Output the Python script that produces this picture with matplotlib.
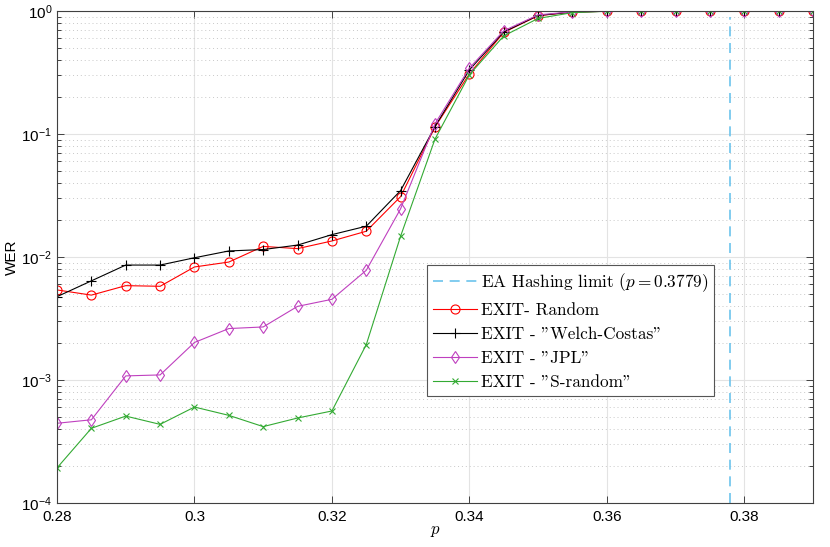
import numpy as np
import matplotlib
matplotlib.use("Agg")
import matplotlib.pyplot as plt
from matplotlib.font_manager import FontProperties
from matplotlib.ticker import LogLocator, NullFormatter, FixedLocator

plt.rcParams["font.family"] = "Liberation Sans"
plt.rcParams["mathtext.fontset"] = "custom"
plt.rcParams["mathtext.rm"] = "Liberation Sans"
plt.rcParams["mathtext.it"] = "Liberation Sans:italic"

p = [0.28, 0.285, 0.29, 0.295, 0.30, 0.305, 0.31, 0.315, 0.32, 0.325, 0.33, 0.335,
     0.34, 0.345, 0.35, 0.355, 0.36, 0.365, 0.37, 0.375, 0.38, 0.385, 0.39]
wer_random = [5.4e-3, 4.9e-3, 5.85e-3, 5.78e-3, 8.3e-3, 9.1e-3, 1.22e-2, 1.17e-2, 1.35e-2,
              1.62e-2, 3.1e-2, 0.114, 0.308, 0.67, 0.915, 0.98, 0.995, 1, 1, 1, 1, 1, 1]
wer_welch = [4.76e-3, 6.4e-3, 8.6e-3, 8.6e-3, 9.86e-3, 1.12e-2, 1.15e-2, 1.25e-2, 1.52e-2,
             1.78e-2, 3.47e-2, 0.115, 0.332, 0.675, 0.92, 0.98, 0.995, 1, 1, 1, 1, 1, 1]
wer_jpl = [4.45e-4, 4.75e-4, 1.08e-3, 1.10e-3, 2.02e-3, 2.62e-3, 2.7e-3, 3.97e-3, 4.53e-3,
           7.8e-3, 2.47e-2, 0.121, 0.343, 0.69, 0.93, 0.985, 0.995, 1, 1, 1, 1, 1, 1]
wer_srand = [1.93e-4, 4.05e-4, 5.09e-4, 4.36e-4, 6.03e-4, 5.16e-4, 4.18e-4, 4.91e-4, 5.6e-4,
             1.94e-3, 1.48e-2, 0.091, 0.303, 0.627, 0.87, 0.97, 0.995, 1, 1, 1, 1, 1, 1]
p_hash = 0.3779
xticks = [0.28, 0.30, 0.32, 0.34, 0.36, 0.38]
xticklabels = ["0.28", "0.3", "0.32", "0.34", "0.36", "0.38"]

fig = plt.figure(figsize=(8.3, 5.47), dpi=100)
ax = fig.add_axes([0.0687, 0.0804, 0.9108, 0.8995])

ax.axvline(p_hash, color="#6CC3EC", lw=1.2, ls=(0, (6, 4)), ymax=0.987,
           label=r"EA Hashing limit ($p = 0.3779$)")
ax.plot(p, wer_random, "-o", color="#FF0000", lw=0.8, ms=6.5, mfc="none", mew=0.8,
        label="EXIT- Random")
ax.plot(p, wer_welch, "-+", color="#000000", lw=0.8, ms=6.5, mew=0.8,
        label='EXIT - "Welch-Costas"')
ax.plot(p, wer_jpl, "-d", color="#BF40BF", lw=0.8, ms=6.5, mfc="none", mew=0.8,
        label='EXIT - "JPL"')
ax.plot(p, wer_srand, "-x", color="#33AA33", lw=0.8, ms=4.5, mew=0.8,
        label='EXIT - "S-random"')

ax.set_yscale("log")
ax.set_xlim(0.28, 0.39)
ax.set_ylim(1e-4, 1)
ax.xaxis.set_major_locator(FixedLocator(xticks))
ax.set_xticklabels(xticklabels)
ax.yaxis.set_major_locator(LogLocator(base=10, numticks=10))
ax.yaxis.set_minor_locator(LogLocator(base=10, subs=np.arange(2, 10), numticks=20))
ax.yaxis.set_minor_formatter(NullFormatter())

ax.grid(True, which="major", color="#E3E3E3", lw=0.8, ls="-")
ax.grid(True, which="minor", axis="y", color="#C8C8C8", lw=0.7, ls=(0, (1, 3)))
ax.set_axisbelow(True)
ax.tick_params(which="both", direction="in", top=True, right=True, labelsize=11,
               color="#404040", width=0.7)
ax.tick_params(which="major", length=5)
ax.tick_params(which="minor", length=3)
ax.tick_params(axis="x", pad=5)
for s in ax.spines.values():
    s.set_color("#404040")
    s.set_linewidth(0.8)

ax.set_ylabel("WER", fontsize=11, labelpad=2)
ax.set_xlabel(r"$p$", fontsize=12, math_fontfamily="cm", labelpad=0)

leg_font = FontProperties(family="cmr10", size=12.4, math_fontfamily="cm")
leg = ax.legend(loc="lower left", bbox_to_anchor=(0.49, 0.218), prop=leg_font,
                handlelength=2.5, handletextpad=0.25, borderpad=0.35, labelspacing=0.5,
                fancybox=False, framealpha=1, edgecolor="#555555", borderaxespad=0)
leg.get_frame().set_linewidth(0.8)

fig.savefig("out.png", dpi=100)
